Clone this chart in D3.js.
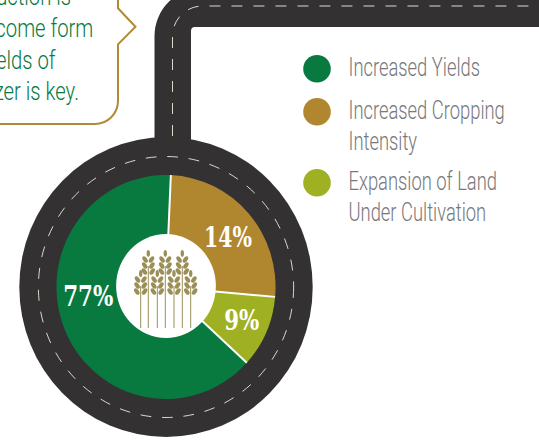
<!DOCTYPE html>
<html>
<head>
<meta charset="utf-8">
<script src="https://d3js.org/d3.v7.min.js"></script>
<style>
html, body { margin: 0; padding: 0; background: #fff; overflow: hidden; }
text { font-family: Roboto, "Liberation Sans", sans-serif; font-weight: 300; }
</style>
</head>
<body>
<svg id="chart" width="539" height="445"></svg>
<script>
// Legend order, printed labels, and the slice shares as they are drawn in the
// picture (the printed percentages do not match the drawn angles).
const categories = [['Increased Yields'], ['Increased Cropping', 'Intensity'], ['Expansion of Land', 'Under Cultivation']];
const percentLabels = ['77%', '14%', '9%'];
const drawnShares = [63.9, 25.7, 10.4];
const sliceColors = ['#087a3f', '#b0862f', '#a0b023'];
const calloutLines = ['uction is', 'come form', 'elds of', 'zer is key.'];

const svg = d3.select('#chart');
const roadColor = '#343132';
const dashColor = '#ddd9cb';

// Road leading off the top right
svg.append('path')
    .attr('d', 'M154.5 170V36A48 48 0 0 1 202.5 -12H539V27H195A4 4 0 0 0 191 31V170Z')
    .attr('fill', roadColor);
svg.append('path')
    .attr('d', 'M172.5 158V36A30 30 0 0 1 202.5 6H539')
    .attr('fill', 'none')
    .attr('stroke', dashColor)
    .attr('stroke-width', 1)
    .attr('stroke-dasharray', '11 11');

// Road ring, the whole roundel is a little narrower than tall
const center = svg.append('g').attr('transform', 'translate(166,287) scale(.978,1)');
center.append('circle').attr('r', 150).attr('fill', roadColor);
center.append('circle')
    .attr('r', 130.5)
    .attr('fill', 'none')
    .attr('stroke', dashColor)
    .attr('stroke-width', 1)
    .attr('stroke-dasharray', '11 11');

// Pie
const start = 132.5 * Math.PI / 180;
const pie = d3.pie().sort(null).startAngle(start).endAngle(start + 2 * Math.PI);
const arc = d3.arc().innerRadius(0).outerRadius(112);
const slices = pie(drawnShares);
center.selectAll('.slice')
    .data(slices)
    .enter()
    .append('path')
    .attr('class', 'slice')
    .attr('d', arc)
    .attr('fill', (d, i) => sliceColors[i]);
center.selectAll('.sep')
    .data(slices)
    .enter()
    .append('line')
    .attr('class', 'sep')
    .attr('x2', d => d3.pointRadial(d.startAngle, 112)[0])
    .attr('y2', d => d3.pointRadial(d.startAngle, 112)[1])
    .attr('stroke', '#fff')
    .attr('stroke-width', 2);

// Hole with the wheat
center.append('ellipse').attr('cy', -1).attr('rx', 51).attr('ry', 52).attr('fill', '#fff');

const wheatColor = '#9b8f57';
function wheat(x, topY, baseY) {
    const g = svg.append('g').attr('fill', wheatColor);
    g.append('line').attr('x1', x).attr('x2', x).attr('y1', topY + 16).attr('y2', baseY)
        .attr('stroke', wheatColor).attr('stroke-width', 1);
    g.append('ellipse').attr('cx', x).attr('cy', topY + 3.5).attr('rx', 1.7).attr('ry', 3.5);
    [[9.5, 3.2], [15.5, 3.6], [21.5, 3.9]].forEach(([dy, off]) => {
        [-1, 1].forEach(side => {
            g.append('ellipse')
                .attr('rx', 2.1).attr('ry', 3.7)
                .attr('transform', `translate(${x + side * off},${topY + dy}) rotate(${side * 35})`);
        });
    });
}
[140.7, 157.3, 174, 190.7].forEach(x => wheat(x, 270, 328));
[148.3, 165.3, 182.3].forEach(x => wheat(x, 250, 328));

// Percent labels
const labelPos = [[88.2, 306, 50], [228, 246.5, 48], [241.7, 330, 35]];
svg.selectAll('.pct')
    .data(percentLabels)
    .enter()
    .append('text')
    .attr('class', 'pct')
    .attr('x', (d, i) => labelPos[i][0])
    .attr('y', (d, i) => labelPos[i][1])
    .attr('text-anchor', 'middle')
    .attr('textLength', (d, i) => labelPos[i][2])
    .attr('lengthAdjust', 'spacingAndGlyphs')
    .attr('fill', '#fff')
    .attr('font-size', 27)
    .style('font-weight', 'bold')
    .style('font-family', '"DejaVu Serif", serif')
    .text(d => d);

// Legend
const legendY = [68.7, 111.7, 182.7];
const legend = svg.selectAll('.legend')
    .data(categories)
    .enter()
    .append('g')
    .attr('class', 'legend');
legend.append('circle')
    .attr('cx', 317)
    .attr('cy', (d, i) => legendY[i])
    .attr('r', 13.8)
    .attr('fill', (d, i) => sliceColors[i]);
legend.each(function (lines, i) {
    d3.select(this).selectAll('text')
        .data(lines)
        .enter()
        .append('text')
        .attr('transform', (d, j) => `translate(348.5,${legendY[i] + 7.3 + j * 31}) scale(.735,1)`)
        .attr('fill', '#77787b')
        .attr('font-size', 25)
        .text(d => d);
});

// Callout
svg.append('path')
    .attr('d', 'M118 -2V8.3L135.5 26.7L118 44.3V101A23 23 0 0 1 95 124H-2')
    .attr('fill', 'none')
    .attr('stroke', '#b08a35')
    .attr('stroke-width', 2);
const calloutEnd = [71, 93.3, 55.5, 79];
svg.selectAll('.callout')
    .data(calloutLines)
    .enter()
    .append('text')
    .attr('class', 'callout')
    .attr('transform', (d, i) => `translate(${calloutEnd[i]},${5 + i * 31.8}) scale(.81,1)`)
    .attr('text-anchor', 'end')
    .attr('fill', '#087a3f')
    .attr('font-size', 25)
    .text(d => d);
</script>
</body>
</html>
